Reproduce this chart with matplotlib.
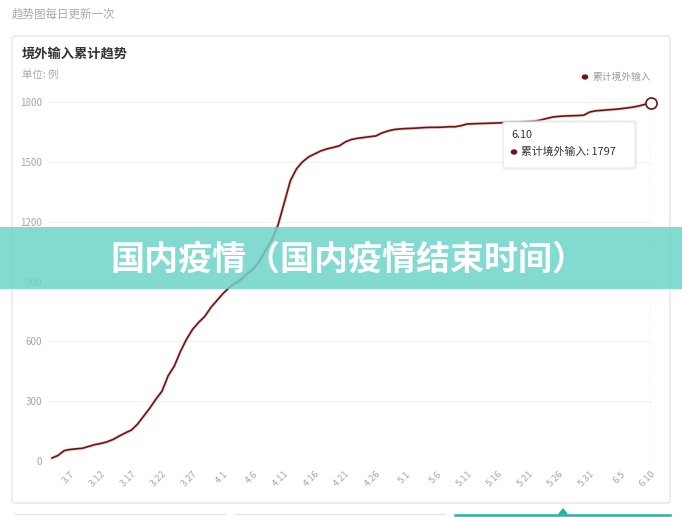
import matplotlib
matplotlib.use("Agg")
import matplotlib.pyplot as plt
from matplotlib.patches import Rectangle, FancyBboxPatch, Circle, Polygon
from matplotlib.lines import Line2D
from datetime import date, timedelta

plt.rcParams['font.family'] = ['Noto Sans CJK SC', 'DejaVu Sans']

W, H = 682, 517

# 累计境外输入 (3.4 ~ 6.10, 每日)
start_day = date(2020, 3, 4)
cum_imported = [
    15, 28, 52, 58, 61, 64, 73, 82, 88, 96,
    108, 125, 141, 155, 185, 225, 265, 310, 350, 427,
    475, 548, 610, 660, 695, 725, 770, 805, 840, 870,
    892, 912, 940, 965, 1005, 1060, 1110, 1185, 1295, 1405,
    1465, 1500, 1525, 1540, 1555, 1565, 1572, 1580, 1600, 1612,
    1618, 1622, 1626, 1630, 1645, 1655, 1662, 1665, 1667, 1668,
    1670, 1672, 1673, 1673, 1674, 1676, 1676, 1682, 1690, 1691,
    1692, 1693, 1694, 1695, 1697, 1698, 1699, 1701, 1702, 1704,
    1710, 1718, 1725, 1728, 1730, 1731, 1732, 1734, 1750, 1756,
    1758, 1761, 1763, 1766, 1770, 1774, 1780, 1788, 1797,
]
dates = [start_day + timedelta(days=i) for i in range(len(cum_imported))]
date_labels = [f"{d.month}.{d.day}" for d in dates]
tick_idx = list(range(3, len(cum_imported), 5))
y_ticks = [0, 300, 600, 900, 1200, 1500, 1800]

line_col = '#6e1414'
grey = '#a6a6a6'


def fx(x):
    return x / W


def fy(y):
    return 1 - y / H


fig = plt.figure(figsize=(W / 100, H / 100), dpi=100)
fig.patch.set_facecolor('white')

# 卡片
card = FancyBboxPatch((fx(12), fy(503)), fx(670) - fx(12), fy(36) - fy(503),
                      boxstyle="round,pad=0,rounding_size=0.005",
                      transform=fig.transFigure, facecolor='white',
                      edgecolor='#e6e6e6', lw=1, zorder=-5)
fig.patches.append(card)

fig.text(fx(12), fy(14), "趋势图每日更新一次", fontsize=8.3, color='#aaaaaa', va='center')
fig.text(fx(22), fy(54), "境外输入累计趋势", fontsize=9.5, color='#333333',
         fontweight='bold', va='center')
fig.text(fx(22), fy(75), "单位: 例", fontsize=7.5, color='#aaaaaa', va='center')

# 图例
fig.patches.append(Circle((fx(585), fy(77)), 2.6 / W, transform=fig.transFigure,
                          color=line_col, zorder=5))
fig.text(fx(592), fy(77), "累计境外输入", fontsize=7, color='#999999', va='center')

ax = fig.add_axes([fx(48), fy(461), fx(651) - fx(48), fy(102) - fy(461)])
ax.set_xlim(-0.65, len(cum_imported) - 1)
ax.set_ylim(0, 1800)
for s in ax.spines.values():
    s.set_visible(False)
ax.set_yticks(y_ticks)
ax.set_yticklabels([str(v) for v in y_ticks], fontsize=7, color=grey)
ax.set_xticks(tick_idx)
ax.set_xticklabels([date_labels[i] for i in tick_idx], rotation=45, ha='right',
                   va='top', rotation_mode='anchor', fontsize=6.8, color=grey)
ax.tick_params(axis='both', length=0)
ax.tick_params(axis='y', pad=4)
ax.tick_params(axis='x', pad=6)
ax.grid(axis='y', color='#f0f0f0', lw=0.8)
ax.set_axisbelow(True)

xs = list(range(len(cum_imported)))
ax.axvline(xs[-1], color='#c8c8c8', ls=(0, (1.5, 2)), lw=1)
ax.plot(xs, cum_imported, color='#e59a9a', lw=2.3, alpha=0.45, solid_capstyle='round')
ax.plot(xs, cum_imported, color=line_col, lw=1.2, solid_joinstyle='round')
ax.plot([xs[-1]], [cum_imported[-1]], 'o', ms=8, mfc='white', mec=line_col, mew=1.2,
        clip_on=False, zorder=5)

# 提示框
shadow = FancyBboxPatch((fx(502), fy(170)), fx(637) - fx(502), fy(120) - fy(170),
                        boxstyle="round,pad=0,rounding_size=0.006",
                        transform=fig.transFigure, facecolor='#e4e4e4',
                        edgecolor='none', alpha=0.5, zorder=6)
tip = FancyBboxPatch((fx(503), fy(168)), fx(635) - fx(503), fy(122) - fy(168),
                     boxstyle="round,pad=0,rounding_size=0.006",
                     transform=fig.transFigure, facecolor='white',
                     edgecolor='#e8e8e8', lw=0.8, zorder=7)
fig.patches.extend([shadow, tip])
fig.text(fx(511), fy(135), date_labels[-1], fontsize=7.8, color='#333333',
         va='center', zorder=8)
fig.patches.append(Circle((fx(514), fy(152)), 2.6 / W, transform=fig.transFigure,
                          color=line_col, zorder=8))
fig.text(fx(521), fy(152), f"累计境外输入: {cum_imported[-1]}", fontsize=7.8,
         color='#333333', va='center', zorder=8)

# 横幅
banner = Rectangle((0, fy(289)), 1, fy(227) - fy(289), transform=fig.transFigure,
                   facecolor='#6dd4c8', alpha=0.85, edgecolor='none', zorder=10)
fig.patches.append(banner)
fig.text(fx(348), fy(259), "国内疫情（国内疫情结束时间）", fontsize=24.5, color='white',
         fontweight='heavy', ha='center', va='center', zorder=11)

# 底部页签
fig.lines.append(Line2D([fx(15), fx(225)], [fy(514), fy(514)], transform=fig.transFigure,
                        color='#e6e6e6', lw=1))
fig.lines.append(Line2D([fx(235), fx(445)], [fy(514), fy(514)], transform=fig.transFigure,
                        color='#e6e6e6', lw=1))
fig.lines.append(Line2D([fx(455), fx(670)], [fy(514.5), fy(514.5)], transform=fig.transFigure,
                        color='#1fb5a8', lw=1.8))
fig.patches.append(Polygon([(fx(559), fy(514)), (fx(567), fy(514)), (fx(563), fy(509))],
                           closed=True, transform=fig.transFigure, color='#1fb5a8'))

fig.savefig("out.png", dpi=100)
